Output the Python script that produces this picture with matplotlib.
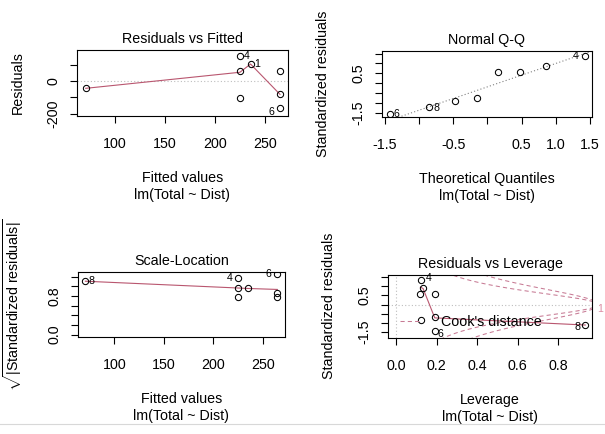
import numpy as np
import matplotlib
matplotlib.use('Agg')
import matplotlib.pyplot as plt
from matplotlib.lines import Line2D

plt.rcParams['font.family'] = ['Liberation Sans', 'DejaVu Sans']
plt.rcParams['mathtext.fontset'] = 'custom'
plt.rcParams['mathtext.rm'] = 'Liberation Sans'
plt.rcParams['mathtext.it'] = 'Liberation Sans:italic'

subCaption = 'lm(Total ~ Dist)'

# Residuals vs Fitted
fittedVals = [70.7, 224.7, 224.7, 224.7, 235.3, 264.7, 264.7, 264.7]
residVals = [-43.5, 159, 64, -104, 107, 66, -81, -168]
residSmoothX = [70.7, 224.7, 235.3, 264.7]
residSmoothY = [-43.5, 56, 107, -81]
# (point index, id, dx px, dy px)
residIds = [(1, '4', 7, 0), (4, '1', 7, 0), (7, '6', -9, -4)]

# Normal Q-Q
qqTheo = [-1.43, -0.85, -0.47, -0.15, 0.15, 0.47, 0.85, 1.43]
qqStd = [-1.55, -1.21, -0.89, -0.76, 0.56, 0.59, 0.87, 1.38]
qqSlope = 1.18
qqIntercept = -0.18
qqIds = [(0, '6', 7, 0), (1, '8', 7, -1), (7, '4', -9, 0)]

# Scale-Location
slFitted = [70.7, 224.7, 224.7, 224.7, 235.3, 264.7, 264.7, 264.7]
slSqrtStd = [1.109, 1.177, 0.958, 0.784, 0.958, 1.248, 0.854, 0.784]
slSmoothX = [70.7, 224.7, 235.3, 264.7]
slSmoothY = [1.105, 0.965, 0.955, 0.935]
slIds = [(0, '8', 6, 0), (1, '4', -8, 0), (5, '6', -9, 0)]

# Residuals vs Leverage
levVals = [0.124, 0.132, 0.119, 0.19, 0.124, 0.19, 0.19, 0.935]
levStd = [1.32, 0.90, 0.59, 0.59, -0.84, -0.70, -1.42, -1.11]
levSmoothX = [0.119, 0.132, 0.19, 0.935]
levSmoothY = [0.95, 0.88, -0.72, -1.11]
levIds = [(0, '4', 7, 2), (6, '6', 6, -3), (7, '8', -8, -2)]
cookLevels = [0.5, 1]
nParams = 2

smoothCol = '#b9566f'
cookCol = '#c77a94'
refGray = '#bebebe'
pt = 0.72  # points per pixel at 100 dpi

fig = plt.figure(figsize=(6.05, 4.34), dpi=100)
W, H = 605, 434


def addAxes(left, top, right, bottom):
    return fig.add_axes([left / W, 1 - bottom / H, (right - left) / W, (bottom - top) / H])


def styleAxes(ax, title, xlab, ylab, xlim, ylim, xticks, xlabels, yticks, ylabels, ylabShift=59):
    ax.set_xlim(xlim)
    ax.set_ylim(ylim)
    ax.set_xticks(xticks, xlabels)
    ax.set_yticks(yticks, ylabels)
    ax.tick_params(direction='out', length=5, width=0.8, labelsize=10.3)
    ax.tick_params(axis='x', pad=10)
    ax.tick_params(axis='y', pad=7, labelrotation=90)
    for lab in ax.get_yticklabels():
        lab.set_va('center')
    for s in ax.spines.values():
        s.set_linewidth(0.8)
    ax.annotate(title, xy=(0.5, 1), xycoords='axes fraction', xytext=(0, 11 * pt),
                textcoords='offset points', ha='center', va='center', fontsize=10.3)
    ax.annotate(xlab, xy=(0.5, 0), xycoords='axes fraction', xytext=(0, -62 * pt),
                textcoords='offset points', ha='center', va='center', fontsize=10.3)
    ax.annotate(subCaption, xy=(0.5, 0), xycoords='axes fraction', xytext=(0, -79 * pt),
                textcoords='offset points', ha='center', va='center', fontsize=10.3)
    ax.annotate(ylab, xy=(0, 0.5), xycoords='axes fraction', xytext=(-ylabShift * pt, 0),
                textcoords='offset points', ha='center', va='center', rotation=90, fontsize=10.3)


def drawPoints(ax, x, y, ids):
    ax.plot(x, y, 'o', mfc='none', mec='black', ms=4.5, mew=0.75, zorder=3)
    for i, txt, dx, dy in ids:
        ax.annotate(txt, xy=(x[i], y[i]), xytext=(dx * pt, dy * pt), textcoords='offset points',
                    ha='center', va='center', fontsize=7.7, zorder=4)


# panel 1
ax1 = addAxes(76.7, 50, 287.7, 116)
ax1.axhline(0, color=refGray, ls=(0, (1, 2)), lw=0.8)
ax1.plot(residSmoothX, residSmoothY, color=smoothCol, lw=0.8)
drawPoints(ax1, fittedVals, residVals, residIds)
styleAxes(ax1, 'Residuals vs Fitted', 'Fitted values', 'Residuals',
          (61.7, 272.4), (-215, 194), [100, 150, 200, 250], ['100', '150', '200', '250'],
          [-200, -100, 0, 100], ['-200', '', '0', ''])

# panel 2
ax2 = addAxes(381.7, 51, 592.3, 117.3)
ax2.axline((0, qqIntercept), slope=qqSlope, color='#808080', ls=(0, (1, 2)), lw=0.8)
drawPoints(ax2, qqTheo, qqStd, qqIds)
styleAxes(ax2, 'Normal Q-Q', 'Theoretical Quantiles', 'Standardized residuals',
          (-1.549, 1.535), (-1.72, 1.63), [-1.5, -1.0, -0.5, 0.0, 0.5, 1.0, 1.5],
          ['-1.5', '', '-0.5', '', '0.5', '1.0', '1.5'],
          [-1.5, -1.0, -0.5, 0.0, 0.5, 1.0, 1.5], ['-1.5', '', '', '', '0.5', '', ''])

# panel 3
ax3 = addAxes(77.7, 272.3, 285, 337)
ax3.plot(slSmoothX, slSmoothY, color=smoothCol, lw=0.8)
drawPoints(ax3, slFitted, slSqrtStd, slIds)
styleAxes(ax3, 'Scale-Location', 'Fitted values',
          r'$\sqrt{|\mathrm{Standardized\ residuals}|}$',
          (62.9, 272.5), (-0.05, 1.29), [100, 150, 200, 250], ['100', '150', '200', '250'],
          [0.0, 0.2, 0.4, 0.6, 0.8, 1.0, 1.2], ['0.0', '', '', '', '0.8', '', ''], ylabShift=65)

# panel 4
ax4 = addAxes(388.3, 274.7, 592.3, 337.7)
xlim4 = (-0.04, 0.97)
ax4.axhline(0, color=refGray, ls=(0, (1, 2)), lw=0.8)
ax4.axvline(0, color=refGray, ls=(0, (1, 2)), lw=0.8)
hh = np.linspace(0.00935, xlim4[1], 101)
for lev in cookLevels:
    clh = np.sqrt(lev * nParams * (1 - hh) / hh)
    ax4.plot(hh, clh, color=cookCol, ls=(0, (4, 3)), lw=0.75)
    ax4.plot(hh, -clh, color=cookCol, ls=(0, (4, 3)), lw=0.75)
clEnd = np.sqrt(cookLevels[-1] * nParams * (1 - xlim4[1]) / xlim4[1])
ax4.annotate(str(cookLevels[-1]), xy=(1, -clEnd), xycoords=('axes fraction', 'data'),
             xytext=(5 * pt, 0), textcoords='offset points', ha='left', va='center',
             color='#dc8ca2', fontsize=7.7, annotation_clip=False)
ax4.plot(levSmoothX, levSmoothY, color=smoothCol, lw=0.8)
drawPoints(ax4, levVals, levStd, levIds)
ax4.legend(handles=[Line2D([], [], color=cookCol, ls=(0, (4, 3)), lw=0.75)],
           labels=["Cook's distance"], loc='center left', bbox_to_anchor=(0.057, 0.25),
           frameon=False, borderpad=0, borderaxespad=0, handlelength=1.45,
           handletextpad=1.45, fontsize=10.3)
styleAxes(ax4, 'Residuals vs Leverage', 'Leverage', 'Standardized residuals',
          xlim4, (-1.8, 1.63), [0.0, 0.2, 0.4, 0.6, 0.8], ['0.0', '0.2', '0.4', '0.6', '0.8'],
          [-1.5, -1.0, -0.5, 0.0, 0.5, 1.0, 1.5], ['-1.5', '', '', '', '0.5', '', ''])

# faint rule along the bottom of the screenshot
fig.add_artist(Line2D([0, 1], [1 - 423.5 / H] * 2, color='#d8d8d8', lw=0.8))

fig.savefig('out.png', dpi=100)
